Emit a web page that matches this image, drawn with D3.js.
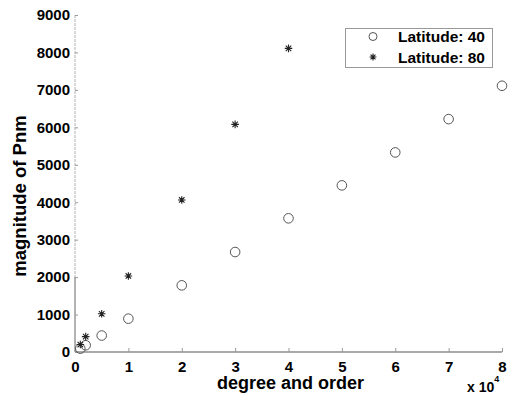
<!DOCTYPE html>
<html>
<head>
<meta charset="utf-8">
<script src="https://cdn.jsdelivr.net/npm/d3@7"></script>
<style>
  html, body { margin: 0; padding: 0; background: #fff; }
  svg { display: block; font-family: "Liberation Sans", Arial, Helvetica, sans-serif; font-weight: bold; }
</style>
</head>
<body>
<svg id="chart" width="515" height="401"></svg>
<script>
// Degree/order values (plotted in units of 10^4) and magnitude of Pnm
const degree40 = [1000, 2000, 5000, 10000, 20000, 30000, 40000, 50000, 60000, 70000, 80000];
const magnitude40 = [90, 180, 440, 890, 1780, 2670, 3570, 4450, 5330, 6220, 7110];
const degree80 = [1000, 2000, 5000, 10000, 20000, 30000, 40000];
const magnitude80 = [200, 410, 1020, 2030, 4060, 6080, 8110];

const xTicks = [0, 1, 2, 3, 4, 5, 6, 7, 8];
const yTicks = [0, 1000, 2000, 3000, 4000, 5000, 6000, 7000, 8000, 9000];
const seriesNames = ["Latitude: 40", "Latitude: 80"];

const svg = d3.select("#chart");
const plot = { left: 75, right: 502, top: 15, bottom: 352 };

const x = d3.scaleLinear().domain([0, 80000]).range([plot.left, plot.right]);
const y = d3.scaleLinear().domain([0, 9000]).range([plot.bottom, plot.top]);

// Axis lines
svg.append("line")
  .attr("x1", x(0)).attr("x2", x(0))
  .attr("y1", y(9000)).attr("y2", y(2000))
  .attr("stroke", "#b0b0b0").attr("stroke-width", 1)
  .attr("stroke-dasharray", "3,1");
svg.append("line")
  .attr("x1", x(0)).attr("x2", x(0))
  .attr("y1", y(2000)).attr("y2", y(0))
  .attr("stroke", "#666").attr("stroke-width", 1);
svg.append("line")
  .attr("x1", x(0)).attr("x2", x(80000))
  .attr("y1", y(0)).attr("y2", y(0))
  .attr("stroke", "#555").attr("stroke-width", 1.2);

const labelFont = "Liberation Sans, Arial, sans-serif";

// Bottom axis: inward ticks, labels in units of 10^4
const xAxis = d3.axisBottom(x)
  .tickValues(xTicks.map(d => d * 1e4))
  .tickFormat(d => d / 1e4)
  .tickSizeInner(-4).tickSizeOuter(0).tickPadding(9);
const gx = svg.append("g").attr("transform", `translate(0,${y(0)})`).call(xAxis);
gx.select(".domain").remove();
gx.selectAll(".tick line").attr("stroke", "#999");
gx.selectAll(".tick text")
  .attr("fill", "#000").attr("font-size", 15).attr("font-weight", "bold")
  .attr("font-family", labelFont);

// Left axis: inward ticks
const yAxis = d3.axisLeft(y)
  .tickValues(yTicks)
  .tickFormat(d3.format("d"))
  .tickSizeInner(-3).tickSizeOuter(0).tickPadding(5);
const gy = svg.append("g").attr("transform", `translate(${x(0)},0)`).call(yAxis);
gy.select(".domain").remove();
gy.selectAll(".tick line").attr("stroke", "#999");
gy.selectAll(".tick text")
  .attr("fill", "#000").attr("font-size", 15).attr("font-weight", "bold")
  .attr("font-family", labelFont);

// Axis titles
svg.append("text")
  .attr("x", (x(0) + x(80000)) / 2 + 2).attr("y", 389)
  .attr("text-anchor", "middle").attr("font-size", 18).attr("fill", "#000")
  .text("degree and order");

const exp = svg.append("text")
  .attr("x", 467).attr("y", 392)
  .attr("font-size", 14).attr("fill", "#000");
exp.append("tspan").text("x 10");
exp.append("tspan").attr("dy", -10).attr("font-size", 9).text("4");

svg.append("text")
  .attr("transform", "translate(26,196) rotate(-90)")
  .attr("text-anchor", "middle").attr("font-size", 18.5).attr("fill", "#000")
  .text("magnitude of Pnm");

// Asterisk marker path (plus and cross overlaid)
function asterisk(r) {
  const d = r * 0.72;
  return `M${-r},0L${r},0M0,${-r}L0,${r}M${-d},${-d}L${d},${d}M${-d},${d}L${d},${-d}`;
}

// Latitude 40: open circles
svg.append("g").selectAll("circle")
  .data(degree40.map((d, i) => [d, magnitude40[i]]))
  .join("circle")
  .attr("cx", d => x(d[0])).attr("cy", d => y(d[1]))
  .attr("r", 4.8)
  .attr("fill", "none").attr("stroke", "#555").attr("stroke-width", 1);

// Latitude 80: asterisks
svg.append("g").selectAll("path")
  .data(degree80.map((d, i) => [d, magnitude80[i]]))
  .join("path")
  .attr("transform", d => `translate(${x(d[0])},${y(d[1])})`)
  .attr("d", asterisk(3.8))
  .attr("fill", "none").attr("stroke", "#222").attr("stroke-width", 1.1);

// Legend
const legend = svg.append("g");
legend.append("rect")
  .attr("x", 345.5).attr("y", 28.5).attr("width", 147).attr("height", 39)
  .attr("fill", "#fff").attr("stroke", "#999").attr("stroke-width", 1);
legend.append("circle")
  .attr("cx", 373).attr("cy", 36.5).attr("r", 4)
  .attr("fill", "none").attr("stroke", "#555").attr("stroke-width", 1);
legend.append("path")
  .attr("transform", "translate(373,57)")
  .attr("d", asterisk(3.4))
  .attr("fill", "none").attr("stroke", "#222").attr("stroke-width", 1.1);
legend.selectAll("text.lg")
  .data(seriesNames)
  .join("text")
  .attr("class", "lg")
  .attr("x", 398).attr("y", (d, i) => 42 + i * 20.5)
  .attr("font-size", 15.5).attr("fill", "#000")
  .text(d => d);
</script>
</body>
</html>
